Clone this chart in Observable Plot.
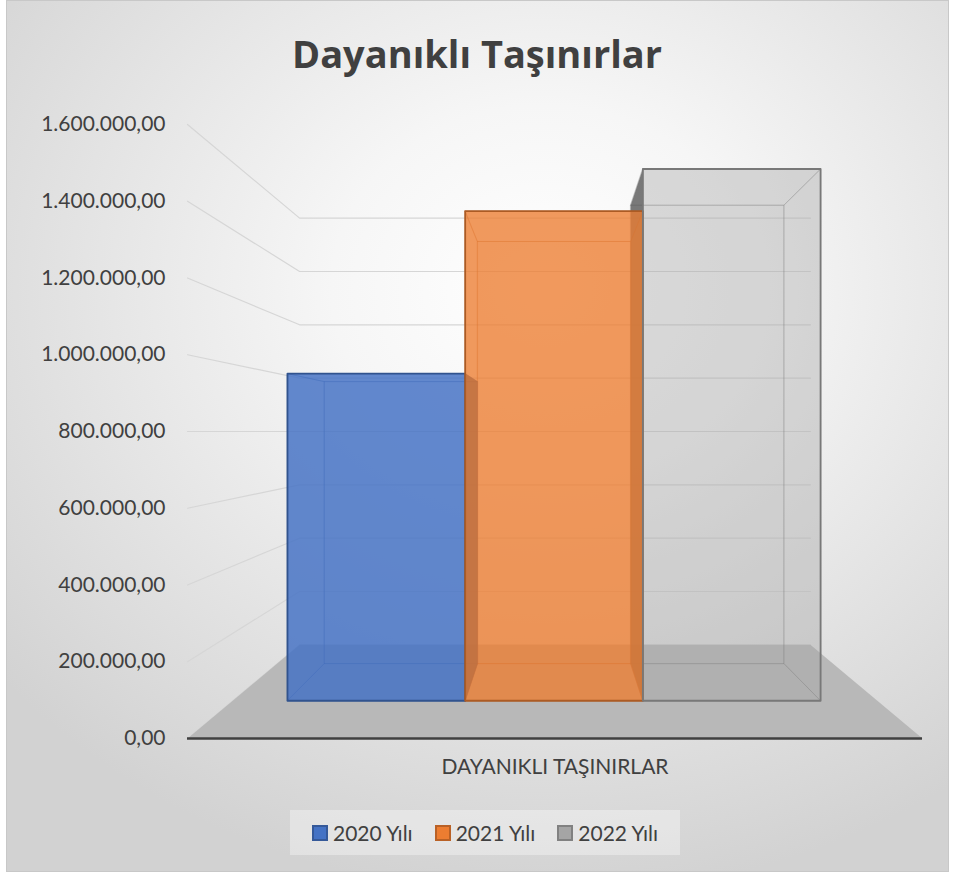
<!DOCTYPE html>
<html>
<head>
<meta charset="utf-8">
<script src="https://cdn.jsdelivr.net/npm/d3@7"></script>
<script src="https://cdn.jsdelivr.net/npm/@observablehq/plot@0.6"></script>
<style>
  body { margin: 0; font-family: Lato, "Open Sans", sans-serif; }
  #wrap { position: relative; width: 954px; height: 874px; overflow: hidden; background: #ffffff; }
  #bg { position: absolute; left: 6px; top: 0; width: 941px; height: 870px; border: 1px solid #c8c8c8;
        background: radial-gradient(ellipse 75% 70% at 57% 33%, #ffffff 0%, #f6f6f6 30%, #e4e4e4 65%, #d2d2d2 100%); }
  #title { position: absolute; left: 0; top: 0; width: 954px; height: 100px; text-align: center; line-height: 106px;
           font-family: "Open Sans", sans-serif; font-weight: 700; font-size: 38px; color: #404040; }
  #chart { position: absolute; left: 0; top: 100px; }
  #legend { position: absolute; left: 290px; top: 810px; width: 390px; height: 45px; background: rgba(255,255,255,0.35);
            display: flex; align-items: center; justify-content: center; font-size: 21px; color: #404040; }
  .item { display: flex; align-items: center; margin: 0 11px; }
  .sw { display: inline-block; width: 12px; height: 12px; border: 2px solid; margin-right: 5px; }
</style>
</head>
<body>
<div id="wrap">
  <div id="bg"></div>
  <div id="title"></div>
  <div id="chart"></div>
  <div id="legend"></div>
</div>
<script>
// ---- data ----
const chartTitle = "Dayanıklı Taşınırlar";
const categoryLabel = "DAYANIKLI TAŞINIRLAR";
const seriesNames = ["2020 Yılı", "2021 Yılı", "2022 Yılı"];
const seriesValues = [972000, 1455000, 1580000];
const seriesColors = ["#4472C4", "#ED7D31", "#A5A5A5"];
const yTicks = [0, 200000, 400000, 600000, 800000, 1000000, 1200000, 1400000, 1600000];

// ---- 3D perspective helpers (layout only) ----
const VP_X = 50, VP_V = 800000;           // vanishing point in world units
const S_FRONT = 1, S_WALL = 0.695;         // depth scale factors: front plane, back wall
const S_BAR_F = 0.877, S_BAR_B = 0.756;    // bar front / back depth
const proj = (X, V, s) => ({x: VP_X + s * (X - VP_X), y: VP_V + s * (V - VP_V)});

const trFmt = d3.formatLocale({decimal: ",", thousands: ".", grouping: [3], currency: ["", ""]}).format(",.2f");

// gridlines on left wall + back wall
const gridRows = [];
yTicks.forEach((v, i) => {
  [proj(0, v, S_FRONT), proj(0, v, S_WALL), proj(100, v, S_WALL)].forEach(p => gridRows.push({...p, key: i}));
});
// floor
const floorRows = [proj(0, 0, S_FRONT), proj(100, 0, S_FRONT), proj(100, 0, S_WALL), proj(0, 0, S_WALL)];

// bars
const band = d3.scaleBand().domain(seriesNames).range([8.5, 91.2]).padding(0);
function faces(kind) {
  const rows = [];
  seriesNames.forEach((name, i) => {
    const X0 = band(name), X1 = X0 + band.bandwidth(), V = seriesValues[i];
    const c = seriesColors[i];
    const dark = d3.color(c).darker(0.9).formatHex();
    let pts, outward = false;
    if (kind === "front") pts = [[X0,0,S_BAR_F],[X1,0,S_BAR_F],[X1,V,S_BAR_F],[X0,V,S_BAR_F]];
    if (kind === "back") pts = [[X0,0,S_BAR_B],[X1,0,S_BAR_B],[X1,V,S_BAR_B],[X0,V,S_BAR_B]];
    if (kind === "top") pts = [[X0,V,S_BAR_F],[X1,V,S_BAR_F],[X1,V,S_BAR_B],[X0,V,S_BAR_B]];
    if (kind === "bottom") pts = [[X0,0,S_BAR_F],[X1,0,S_BAR_F],[X1,0,S_BAR_B],[X0,0,S_BAR_B]];
    if (kind === "left") { pts = [[X0,0,S_BAR_F],[X0,0,S_BAR_B],[X0,V,S_BAR_B],[X0,V,S_BAR_F]]; outward = X0 > VP_X; }
    if (kind === "right") { pts = [[X1,0,S_BAR_F],[X1,0,S_BAR_B],[X1,V,S_BAR_B],[X1,V,S_BAR_F]]; outward = X1 < VP_X; }
    const sideFill = outward ? d3.color(c).darker(1.7).formatHex() : c;
    const sideOp = outward ? 0.8 : 0.08;
    pts.forEach(([a, b, s]) => rows.push({...proj(a, b, s), key: name, fill: c, stroke: dark, side: sideFill, sideOp, i}));
  });
  return rows;
}
const frontOpacity = d => [0.82, 0.76, 0.33][d.i];
const faceOpts = {x: "x", y: "y", z: "key", stroke: "stroke", strokeOpacity: 0.3, strokeWidth: 1, curve: "linear-closed"};

const plot = Plot.plot({
  width: 954, height: 700,
  marginLeft: 187, marginRight: 32, marginTop: 24, marginBottom: 62,
  style: {background: "transparent", fontFamily: "Lato, 'Open Sans', sans-serif", fontSize: "21px", color: "#404040"},
  x: {domain: [0, 100]},
  y: {domain: [0, 1600000]},
  color: {type: "identity"},
  marks: [
    Plot.axisY(yTicks, {tickSize: 0, tickPadding: 22, tickFormat: trFmt, fontSize: 21, fill: "#404040", label: null}),
    Plot.axisX({ticks: [], tickSize: 0, label: null}),
    Plot.line(gridRows, {x: "x", y: "y", z: "key", stroke: "#d6d6d6", strokeWidth: 1.2}),
    Plot.line(floorRows, {x: "x", y: "y", fill: "#b8b8b8", stroke: "none", curve: "linear-closed"}),
    Plot.ruleY([0], {stroke: "#404040", strokeWidth: 2.5}),
    Plot.line(faces("back"), {...faceOpts, fill: "fill", fillOpacity: 0.1}),
    Plot.line(faces("bottom"), {...faceOpts, fill: "fill", fillOpacity: 0.08}),
    Plot.line(faces("top"), {...faceOpts, fill: "fill", fillOpacity: 0.08}),
    Plot.line(faces("left"), {...faceOpts, fill: "side", fillOpacity: "sideOp"}),
    Plot.line(faces("right"), {...faceOpts, fill: "side", fillOpacity: "sideOp"}),
    Plot.line(faces("front"), {x: "x", y: "y", z: "key", fill: "fill", fillOpacity: frontOpacity, stroke: "stroke", strokeWidth: 1.8, curve: "linear-closed"}),
    Plot.text([categoryLabel], {frameAnchor: "bottom", dy: 35, text: d => d, fontSize: 21, fill: "#404040"})
  ]
});
document.getElementById("chart").appendChild(plot);
document.getElementById("title").textContent = chartTitle;

const legend = document.getElementById("legend");
seriesNames.forEach((name, i) => {
  const item = document.createElement("div");
  item.className = "item";
  const sw = document.createElement("span");
  sw.className = "sw";
  sw.style.background = seriesColors[i];
  sw.style.borderColor = d3.color(seriesColors[i]).darker(0.7).formatHex();
  const t = document.createElement("span");
  t.textContent = name;
  item.appendChild(sw); item.appendChild(t);
  legend.appendChild(item);
});
</script>
</body>
</html>
